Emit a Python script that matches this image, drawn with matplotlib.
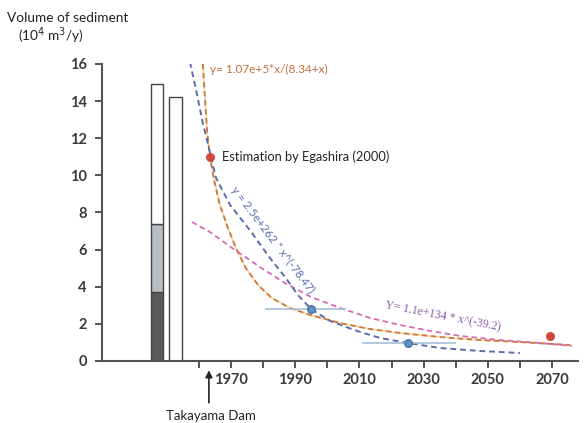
import matplotlib
matplotlib.use("Agg")
import matplotlib.pyplot as plt

plt.rcParams['font.family'] = ['Lato', 'DejaVu Sans']

# bars before the dam (10^4 m3/y)
bar_x = [1946.9, 1952.7]
bar1_dark = 3.7
bar1_grey = 3.7
bar1_white = 7.5
bar2_total = 14.2

# fitted curves (year, volume)
blue_yr = [1957.2, 1959.1, 1961.2, 1963.4, 1965.3, 1969.7, 1976.5, 1982.1, 1986.8, 1990.8,
           1994.9, 2000.8, 2009.2, 2016.4, 2025.1, 2035.1, 2047.5, 2060.0]
blue_v = [16.11, 14.60, 12.82, 11.26, 9.86, 8.41, 6.90, 5.55, 4.53, 3.56,
          2.80, 2.16, 1.62, 1.24, 0.97, 0.70, 0.54, 0.43]

orange_yr = [1961.2, 1961.9, 1962.5, 1963.4, 1964.7, 1966.5, 1969.0, 1971.5, 1974.6, 1978.4,
             1982.7, 1988.3, 1994.6, 2003.9, 2013.3, 2022.6, 2035.1, 2047.5, 2060.0, 2075.6]
orange_v = [16.0, 14.06, 12.45, 10.99, 9.75, 8.41, 7.17, 6.09, 5.01, 4.09,
            3.39, 2.86, 2.48, 2.05, 1.72, 1.51, 1.29, 1.13, 1.02, 0.86]

pink_yr = [1957.8, 1963.4, 1971.2, 1979.0, 1986.8, 1994.9, 2003.9, 2013.3, 2022.6, 2032.0,
           2041.3, 2053.8, 2066.2, 2076.2]
pink_v = [7.49, 6.95, 5.98, 5.06, 4.20, 3.45, 2.86, 2.32, 1.94, 1.62,
          1.35, 1.13, 0.97, 0.81]

# observations
obs_yr = [1994.9, 2025.1]
obs_v = [2.80, 0.97]
obs_lo = [1981.0, 2011.1]
obs_hi = [2005.5, 2039.8]

egashira_yr = [1963.4, 2069.3]
egashira_v = [11.0, 1.35]

xticks = list(range(1960, 2080, 10))
xlabels = [str(y) if (y - 1970) % 20 == 0 else '' for y in xticks]

fig = plt.figure(figsize=(5.85, 4.23), dpi=100)
ax = fig.add_axes([0.1744, 0.1466, 0.8137, 0.7021])

ax.bar(bar_x[0], bar1_dark, width=3.8, color='#5a5a5a', edgecolor='#444444', lw=1)
ax.bar(bar_x[0], bar1_grey, bottom=bar1_dark, width=3.8, color='#b9bdc6', edgecolor='#444444', lw=1)
ax.bar(bar_x[0], bar1_white, bottom=bar1_dark + bar1_grey, width=3.8, color='white', edgecolor='#444444', lw=1)
ax.bar(bar_x[1], bar2_total, width=3.8, color='white', edgecolor='#444444', lw=1)

# curves
ax.plot(orange_yr, orange_v, color='#f7cf95', lw=1.2, alpha=0.8)
ax.plot(orange_yr, orange_v, color='#c9793a', lw=1.3, ls=(0, (3, 2)))
ax.plot(pink_yr, pink_v, color='#d46cb4', lw=1.3, ls=(0, (3, 2)))
ax.plot(blue_yr, blue_v, color='#5d6cab', lw=1.4, ls=(0, (3, 2)))

for x, v, lo, hi in zip(obs_yr, obs_v, obs_lo, obs_hi):
    ax.plot([lo, hi], [v, v], color='#a3bfd9', lw=1.2)
ax.scatter(obs_yr, obs_v, s=30, color='#5f8fc4', edgecolor='#4a76a8', zorder=5)
ax.scatter(egashira_yr, egashira_v, s=30, color='#cf4a3a', zorder=5)

ax.text(1963.4, 15.68, 'y= 1.07e+5*x/(8.34+x)', color='#c0703a', fontsize=8.5, va='center')
ax.text(1967.2, 11.0, 'Estimation by Egashira (2000)', color='#222222', fontsize=9.3, va='center')
ax.text(1983.0, 6.52, 'y = 2.5e+262 * x^(-78.47)', color='#5d6cab', fontsize=8.3,
        rotation=-53, ha='center', va='center')
ax.text(2036.0, 2.40, 'Y= 1.1e+134 * x^(-39.2)', color='#8a5aa8', fontsize=8.5,
        family='Liberation Serif', rotation=-11, ha='center', va='center')

ax.set_xlim(1929.8, 2078.1)
ax.set_ylim(0, 16)
ax.set_xticks(xticks)
ax.set_xticklabels(xlabels)
ax.set_yticks(range(0, 17, 2))
ax.tick_params(axis='both', colors='#444444', labelcolor='#3a3a3a', labelsize=10.5, width=1.3, length=5)
ax.tick_params(axis='y', pad=6)
for lab in ax.get_xticklabels() + ax.get_yticklabels():
    lab.set_fontweight('bold')
for s in ['top', 'right']:
    ax.spines[s].set_visible(False)
for s in ['left', 'bottom']:
    ax.spines[s].set_color('#555555')
    ax.spines[s].set_linewidth(1.5)

# dam arrow below the axis
ax.annotate('', xy=(1963.1, -0.35), xytext=(1963.1, -2.4), annotation_clip=False,
            arrowprops=dict(arrowstyle='-|>', color='#222222', lw=1.2, mutation_scale=10))
ax.text(1963.7, -2.95, 'Takayama Dam', ha='center', va='center', fontsize=9.5, color='#222222', clip_on=False)

fig.text(0.012, 0.957, 'Volume of sediment', fontsize=9.8, color='#222222', va='center')
fig.text(0.030, 0.915, '(10$^4$ m$^3$/y)', fontsize=9.8, color='#222222', va='center')

fig.savefig('out.png', dpi=100)
